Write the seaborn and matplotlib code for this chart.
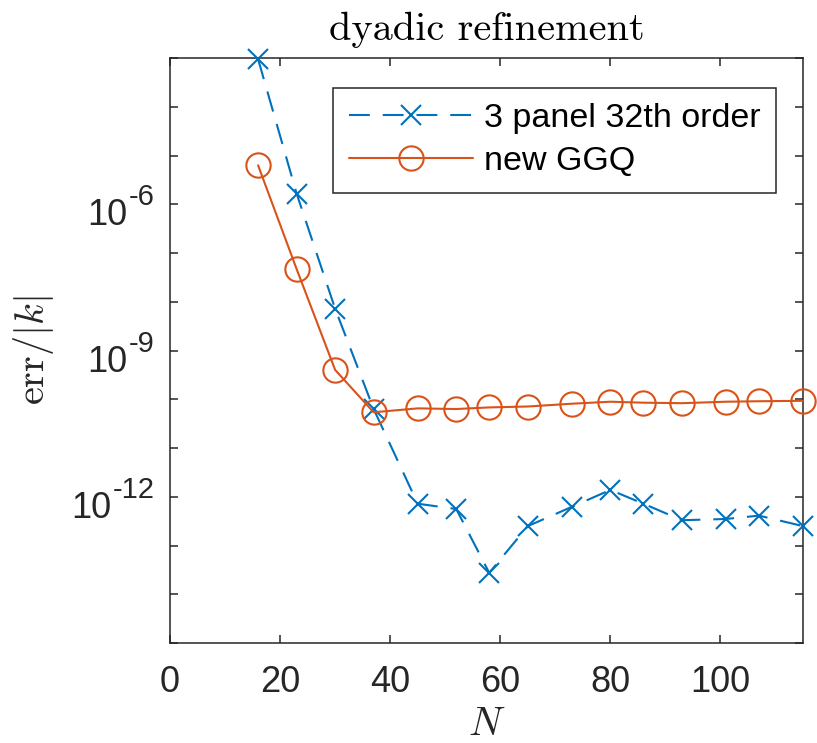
import numpy as np
import pandas as pd
import seaborn as sns
import matplotlib
matplotlib.use("Agg")
import matplotlib.pyplot as plt
import matplotlib.transforms as mtransforms
from matplotlib.ticker import FixedLocator, NullFormatter
from matplotlib.lines import Line2D

# Number of quadrature nodes
N = [16, 23, 30, 37, 45, 52, 58, 65, 73, 80, 86, 93, 101, 107, 115]

# Relative error err/|k| for each scheme
err_panel = [9.5e-4, 1.66e-6, 7.2e-9, 6.3e-11, 7.2e-13, 5.6e-13, 2.75e-14,
             2.5e-13, 6.2e-13, 1.38e-12, 7.2e-13, 3.3e-13, 3.5e-13, 4.1e-13,
             2.5e-13]
err_ggq = [6.3e-6, 4.7e-8, 4.0e-10, 5.4e-11, 6.5e-11, 6.3e-11, 6.8e-11,
           7.1e-11, 8.1e-11, 8.9e-11, 8.5e-11, 8.3e-11, 8.9e-11, 9.1e-11,
           9.3e-11]

series_labels = ["3 panel 32th order", "new GGQ"]
ytick_exponents = [-12, -9, -6]
xtick_vals = [0, 20, 40, 60, 80, 100]

sns.set_theme(style="ticks")
plt.rcParams["font.family"] = ["Liberation Sans", "DejaVu Sans"]

BLUE = "#0072BD"
ORANGE = "#D95319"
INK = "#262626"
TICK_SIZE = 26
EXP_SIZE = 21

fig = plt.figure(figsize=(8.17, 7.43), dpi=100)
ax = fig.add_axes([170 / 817, 100 / 743, 633 / 817, 585 / 743])

df = pd.DataFrame({"N": N, "panel": err_panel, "ggq": err_ggq})

sns.lineplot(data=df, x="N", y="panel", ax=ax, color=BLUE, marker="x",
             markersize=14.5, markeredgewidth=1.5, markeredgecolor=BLUE,
             linewidth=1.5, linestyle=(0, (10, 6.2)), estimator=None,
             sort=False, clip_on=False, zorder=3)
sns.lineplot(data=df, x="N", y="ggq", ax=ax, color=ORANGE, marker="o",
             markersize=17.5, markerfacecolor="none", markeredgecolor=ORANGE,
             markeredgewidth=1.5, linewidth=1.5, estimator=None, sort=False,
             clip_on=False, zorder=4)

ax.set_yscale("log")
ax.set_xlim(0, 115)
ax.set_ylim(1e-15, 1e-3)

ax.xaxis.set_major_locator(FixedLocator(xtick_vals))
ax.yaxis.set_major_locator(FixedLocator([10.0 ** e for e in ytick_exponents]))
ax.yaxis.set_major_formatter(NullFormatter())
ax.yaxis.set_minor_locator(FixedLocator([10.0 ** e for e in range(-15, -2)
                                         if e not in ytick_exponents]))
ax.yaxis.set_minor_formatter(NullFormatter())

for side in ["left", "right", "top", "bottom"]:
    ax.spines[side].set_visible(True)
    ax.spines[side].set_color(INK)
    ax.spines[side].set_linewidth(1.1)

ax.tick_params(axis="both", which="both", direction="in", top=True,
               right=True, length=6, width=1.1, color=INK, labelcolor=INK,
               labelsize=TICK_SIZE)
ax.tick_params(axis="x", pad=16)

# Power-of-ten labels on the y axis: base "10" with a raised exponent
renderer = fig.canvas.get_renderer()
ytrans = ax.get_yaxis_transform()
for e in ytick_exponents:
    exp_txt = ax.text(0, 10.0 ** e, f"-{abs(e)}", fontsize=EXP_SIZE,
                      color=INK, ha="right", va="baseline",
                      transform=mtransforms.offset_copy(ytrans, fig, x=-15,
                                                        y=-1, units="dots"))
    w = exp_txt.get_window_extent(renderer).width
    ax.text(0, 10.0 ** e, "10", fontsize=TICK_SIZE, color=INK, ha="right",
            va="baseline",
            transform=mtransforms.offset_copy(ytrans, fig, x=-15 - w - 2,
                                              y=-21, units="dots"))

ax.set_title("dyadic refinement", family="cmr10", fontsize=29, pad=13,
             color="black")
ax.set_xlabel(r"$N$", fontsize=29, math_fontfamily="cm", color=INK)
ax.set_ylabel(r"$\mathrm{err}/|k|$", fontsize=29, math_fontfamily="cm",
              color=INK)
ax.xaxis.set_label_coords(0.5, -0.106)
ax.yaxis.set_label_coords(-0.18, 0.5)

handles = [
    Line2D([], [], color=BLUE, marker="x", markersize=14.5,
           markeredgewidth=1.5, linewidth=1.5, linestyle=(0, (10, 6.2))),
    Line2D([], [], color=ORANGE, marker="o", markersize=17.5,
           markerfacecolor="none", markeredgewidth=1.5, linewidth=1.5),
]
leg = ax.legend(handles, series_labels, loc="upper right",
                bbox_to_anchor=(0.957, 0.9487), borderaxespad=0,
                fontsize=24.5, handlelength=3.65, handletextpad=0.32,
                borderpad=0.45, labelspacing=0.35, fancybox=False,
                framealpha=1, edgecolor=INK)
leg.get_frame().set_linewidth(1.1)
for t in leg.get_texts():
    t.set_color("black")

fig.savefig("out.png", dpi=100)
